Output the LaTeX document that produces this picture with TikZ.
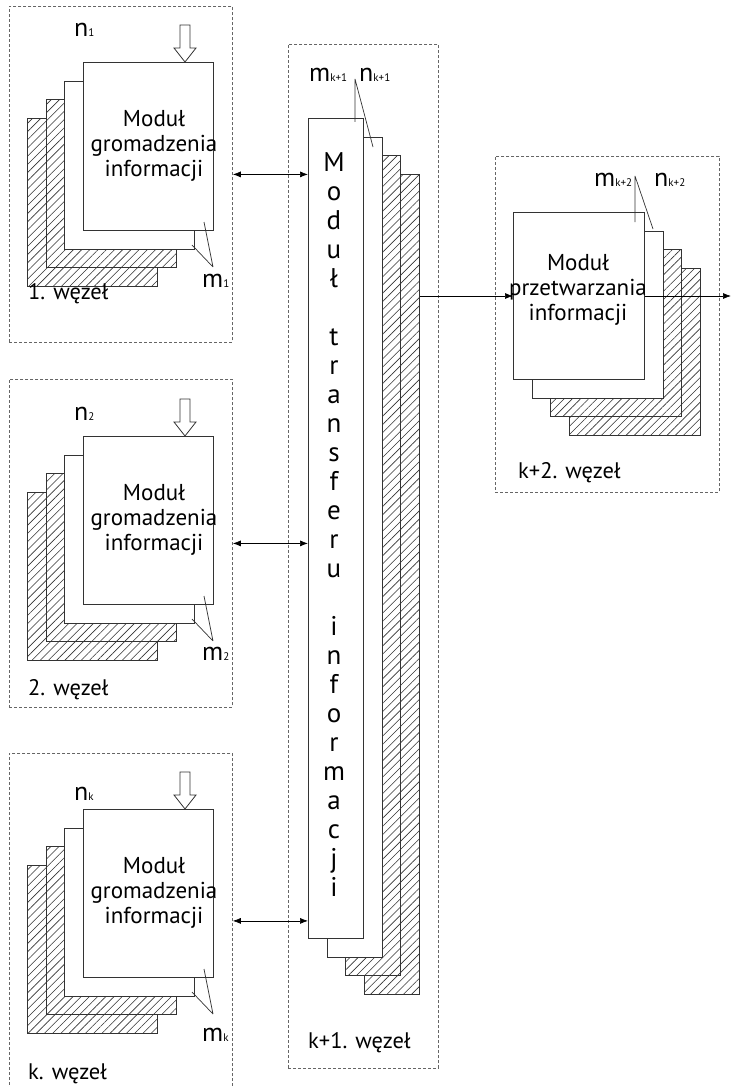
\documentclass[tikz,border=0pt]{standalone}
\usepackage{fontspec}
\setmainfont{PT Sans}
\usetikzlibrary{arrows.meta,patterns.meta,calc}

% four-sheet stack: front sheet at (#2,#3), copies shifted by (#4,#5) each
\newcommand\SheetStack[7]{%
  \node[hatchsheet, minimum width=#6, minimum height=#7] (#1d) at ({#2+3*(#4)},{#3+3*(#5)}) {};
  \node[hatchsheet, minimum width=#6, minimum height=#7] (#1c) at ({#2+2*(#4)},{#3+2*(#5)}) {};
  \node[sheet, minimum width=#6, minimum height=#7] (#1b) at ({#2+#4},{#3+#5}) {};
  \node[sheet, minimum width=#6, minimum height=#7] (#1a) at (#2,#3) {};
}
% hollow input arrow whose tip touches the given point
\newcommand\InArrow[1]{%
  \draw[hollow] (#1) -- ++(-11,-14) -- ++(6,0) -- ++(0,-23) -- ++(10,0) -- ++(0,23) -- ++(6,0) -- cycle;
}

\begin{document}
\begin{tikzpicture}[x=1pt,y=-1pt,
  panel/.style={draw=black!60, line width=0.8pt, dash pattern=on 3pt off 2pt,
    inner sep=0pt, anchor=north west},
  sheet/.style={draw=black!80, line width=0.8pt, fill=white, inner sep=0pt, anchor=north west},
  hatchsheet/.style={sheet, preaction={fill=white},
    pattern={Lines[angle=45,distance=5.8pt,line width=0.6pt]}, pattern color=black!80},
  hollow/.style={draw=black!80, line width=0.8pt, fill=white, line join=miter},
  modtext/.style={align=center, font=\fontsize{23}{25}\selectfont, inner sep=0pt},
  vtext/.style={align=center, font=\fontsize{27}{29}\selectfont, inner sep=0pt},
  lbl/.style={anchor=base west, inner sep=0pt, font=\fontsize{22.5}{24}\selectfont},
  sym/.style={anchor=base west, inner sep=0pt, font=\fontsize{26}{26}\selectfont},
  tick/.style={draw=black!80, line width=0.7pt},
  arr/.style={draw=black, line width=0.7pt, -{Latex[length=8pt,width=6pt]}},
  dbl/.style={draw=black, line width=0.7pt, {Latex[length=8pt,width=6pt]}-{Latex[length=8pt,width=6pt]}}
]
\useasboundingbox (0,0) rectangle (731,1086);
\newcommand\ix[1]{{\fontsize{11}{11}\selectfont #1}}

% ---- dashed node frames ----
\node[panel, minimum width=223pt, minimum height=336pt] (w1) at (9,6) {};
\node[panel, minimum width=223pt, minimum height=328pt] (w2) at (9,379) {};
\node[panel, minimum width=223pt, minimum height=335pt] (wk) at (9,753) {};
\node[panel, minimum width=150pt, minimum height=1024pt] (wt) at (288,44) {};
\node[panel, minimum width=224pt, minimum height=336pt] (wp) at (495,156) {};

% ---- node 1 ----
\SheetStack{g1}{83}{62}{-18.7}{18.7}{130pt}{168pt}
\node[modtext] (g1t) at (154,146) {Moduł\\gromadzenia\\informacji};
\InArrow{$(g1a.north west)+(102,0)$}
\node[sym] (n1) at (74,37) {n\ix{1}};
\node[sym] (m1) at (202,287) {m\ix{1}};
\coordinate (m1v) at (213,267);
\draw[tick] (m1v) -- (204,222) (m1v) -- (192,245);
\node[lbl] (l1) at (28,299) {1. węzeł};

% ---- node 2 ----
\SheetStack{g2}{83}{436}{-18.7}{18.7}{130pt}{168pt}
\node[modtext] (g2t) at (154,520) {Moduł\\gromadzenia\\informacji};
\InArrow{$(g2a.north west)+(102,0)$}
\node[sym] (n2) at (74,420) {n\ix{2}};
\node[sym] (m2) at (202,660) {m\ix{2}};
\coordinate (m2v) at (213,641);
\draw[tick] (m2v) -- (204,596) (m2v) -- (192,619);
\node[lbl] (l2) at (28,695) {2. węzeł};

% ---- node k ----
\SheetStack{gk}{83}{809}{-18.7}{18.7}{130pt}{168pt}
\node[modtext] (gkt) at (154,893) {Moduł\\gromadzenia\\informacji};
\InArrow{$(gka.north west)+(102,0)$}
\node[sym] (nk) at (74,800) {n\ix{k}};
\node[sym] (mk) at (202,1041) {m\ix{k}};
\coordinate (mkv) at (213,1014);
\draw[tick] (mkv) -- (204,969) (mkv) -- (192,992);
\node[lbl] (lk) at (28,1079) {k. węzeł};

% ---- node k+1: transfer module ----
\SheetStack{tr}{308}{118}{18.7}{18.7}{55pt}{820pt}
\node[vtext] (trt) at (334,525) {M\\o\\d\\u\\ł\\[29pt]t\\r\\a\\n\\s\\f\\e\\r\\u\\[29pt]i\\n\\f\\o\\r\\m\\a\\c\\j\\i};
\node[sym] (mt) at (309,82) {m\ix{k+1}};
\node[sym] (nt) at (359,82) {n\ix{k+1}};
\coordinate (tv) at (355,79);
\draw[tick] (tv) -- (355,122) (tv) -- (373,147);
\node[lbl] (lt) at (308,1048) {k+1. węzeł};

% ---- node k+2: processing module ----
\SheetStack{pr}{513}{212}{18.7}{18.7}{131pt}{167pt}
\node[modtext] (prt) at (578,290) {Moduł\\przetwarzania\\informacji};
\node[sym] (mp) at (594,186) {m\ix{k+2}};
\node[sym] (np) at (654,186) {n\ix{k+2}};
\coordinate (pv) at (635,176);
\draw[tick] (pv) -- (635,222) (pv) -- (653,229);
\node[lbl] (lp) at (518,478) {k+2. węzeł};

% ---- connectors ----
\draw[dbl] (w1.east) -- (tra.west |- w1.east);
\draw[dbl] (w2.east) -- (tra.west |- w2.east);
\draw[dbl] (wk.east) -- (tra.west |- wk.east);
\coordinate (flow) at (0,296);
\coordinate (out) at (731,296);
\draw[arr] (trd.east |- flow) -- (pra.west |- flow);
\draw[arr] (pra.east |- flow) -- (out);
\end{tikzpicture}
\end{document}
